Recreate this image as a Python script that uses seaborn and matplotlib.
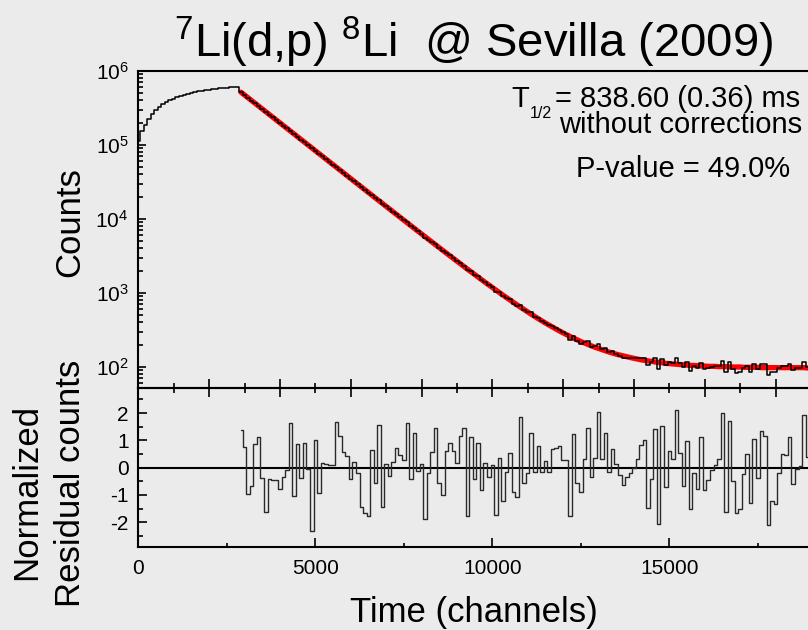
import numpy as np
import pandas as pd
import matplotlib
matplotlib.use("Agg")
import matplotlib.pyplot as plt
import seaborn as sns
from matplotlib.ticker import LogLocator, MultipleLocator, NullFormatter, FuncFormatter

# ---------------- data ----------------
time_rise = list(range(0, 2900, 100))
counts_rise = [115000, 155000, 188000, 227000, 263000, 296000, 326000, 354000, 379000,
               402000, 424000, 443000, 461000, 478000, 493000, 507000, 520000, 531000,
               542000, 552000, 561000, 570000, 577000, 584000, 591000, 597000, 602000,
               607000, 610000]
time_decay = list(range(2900, 19100, 100))
counts_decay = [518089, 474624, 434071, 398148, 365968, 335722, 307002, 280819, 258065, 236590,
                216919, 198741, 182400, 167336, 154100, 140324, 129329, 118178, 108770, 99450,
                90498, 83922, 76425, 70366, 64510, 59151, 54242, 50094, 45842, 41928,
                38427, 35082, 32288, 29544, 26885, 24614, 22547, 21022, 19117, 17815,
                15968, 14834, 13560, 12497, 11519, 10546, 9662, 8997, 8076, 7557,
                6827, 6287, 5620, 5277, 4901, 4560, 4066, 3705, 3499, 3233,
                2959, 2699, 2533, 2347, 2015, 1979, 1760, 1675, 1478, 1398,
                1273, 1189, 1038, 1023, 898, 862, 819, 720, 662, 688,
                583, 549, 545, 478, 466, 417, 398, 366, 358, 338,
                320, 294, 278, 230, 264, 224, 207, 215, 222, 188,
                190, 205, 175, 181, 157, 162, 150, 142, 134, 133,
                132, 131, 131, 134, 134, 105, 115, 132, 93, 130,
                105, 118, 113, 131, 114, 100, 116, 89, 103, 96,
                114, 95, 97, 101, 103, 104, 121, 85, 117, 95,
                84, 85, 97, 104, 86, 109, 95, 111, 109, 77,
                86, 85, 96, 103, 102, 109, 92, 98, 98, 117,
                101, 94]
fit_counts = [517097, 474114, 434704, 398571, 365442, 335068, 307218, 281684, 258273, 236809,
              217129, 199085, 182541, 167373, 153465, 140714, 129024, 118305, 108477, 99466,
              91205, 83630, 76685, 70318, 64480, 59127, 54219, 49719, 45594, 41811,
              38343, 35163, 32248, 29575, 27124, 24877, 22817, 20928, 19196, 17608,
              16152, 14818, 13594, 12472, 11443, 10499, 9635, 8842, 8115, 7448,
              6837, 6277, 5763, 5292, 4860, 4464, 4101, 3768, 3463, 3183,
              2926, 2691, 2475, 2278, 2096, 1930, 1778, 1638, 1510, 1392,
              1285, 1186, 1095, 1012, 936, 867, 803, 744, 690, 641,
              596, 554, 516, 481, 449, 420, 393, 369, 346, 325,
              306, 289, 273, 258, 245, 233, 221, 211, 202, 193,
              185, 178, 171, 165, 159, 154, 149, 145, 141, 137,
              134, 131, 128, 125, 123, 121, 119, 117, 115, 114,
              112, 111, 110, 109, 108, 107, 106, 105, 105, 104,
              103, 103, 102, 102, 102, 101, 101, 101, 100, 100,
              100, 100, 99, 99, 99, 99, 99, 98, 98, 98,
              98, 98, 98, 98, 98, 98, 98, 98, 98, 98,
              97, 97]
residuals = [1.38, 0.74, -0.96, -0.67, 0.87, 1.13, -0.39, -1.63, -0.41, -0.45,
             -0.45, -0.77, -0.33, -0.09, 1.62, -1.04, 0.85, -0.37, 0.89, -0.05,
             -2.34, 1.01, -0.94, 0.18, 0.12, 0.10, 0.10, 1.68, 1.16, 0.57,
             0.43, -0.43, 0.22, -0.18, -1.45, -1.67, -1.79, 0.65, -0.57, 1.56,
             -1.45, 0.13, -0.29, 0.22, 0.71, 0.46, 0.28, 1.65, -0.43, 1.26,
             -0.12, 0.12, -1.88, -0.21, 0.59, 1.44, -0.55, -1.02, 0.62, 0.89,
             0.61, 0.16, 1.16, 1.44, -1.77, 1.11, -0.43, 0.91, -0.82, 0.16,
             -0.33, 0.10, -1.73, 0.34, -1.24, -0.17, 0.55, -0.88, -1.06, 1.87,
             -0.55, -0.21, 1.28, -0.15, 0.80, -0.15, 0.26, -0.15, 0.67, 0.71,
             0.79, 0.28, 0.28, -1.77, 1.23, -0.57, -0.91, 0.30, 1.44, -0.33,
             0.34, 2.05, 0.30, 1.26, -0.17, 0.67, 0.12, -0.27, -0.63, -0.33,
             -0.21, 0.00, 0.30, 0.83, 1.01, -1.49, -0.40, 1.40, -2.07, 1.52,
             -0.70, 0.62, 0.30, 2.11, 0.55, -0.67, 0.98, -1.52, -0.20, -0.80,
             1.13, -0.82, -0.45, -0.09, 0.10, 0.30, 1.99, -1.61, 1.71, -0.50,
             -1.65, -1.51, -0.23, 0.50, -1.30, 1.04, -0.37, 1.34, 1.16, -2.10,
             -1.24, -1.35, -0.20, 0.50, 0.45, 1.11, -0.60, -0.05, 0.05, 1.93,
             0.40, -0.30]

title_text = r"$^{7}$Li(d,p) $^{8}$Li  @ Sevilla (2009)"

# ---------------- style ----------------
bg = "#ebebeb"
sns.set_theme(style="ticks")
plt.rcParams.update({
    "font.family": ["Liberation Sans", "DejaVu Sans"],
    "mathtext.fontset": "custom",
    "mathtext.rm": "Liberation Sans",
    "mathtext.it": "Liberation Sans:italic",
    "mathtext.bf": "Liberation Sans:bold",
    "axes.unicode_minus": False,
    "figure.facecolor": bg,
    "axes.facecolor": "none",
    "axes.edgecolor": "black",
    "axes.linewidth": 1.5,
    "text.color": "black",
    "axes.labelcolor": "black",
    "xtick.color": "black",
    "ytick.color": "black",
    "xtick.labelcolor": "black",
    "ytick.labelcolor": "black",
})

W, H = 808, 630
fig = plt.figure(figsize=(W / 100, H / 100), dpi=100)
x0 = 138.3
pxc = 0.0354  # px per channel
ax1 = fig.add_axes([x0 / W, 1 - 388 / H, 20000 * pxc / W, (388 - 71) / H])
ax2 = fig.add_axes([x0 / W, 1 - 547 / H, 20000 * pxc / W, (547 - 388) / H])

df_all = pd.DataFrame({"t": time_rise + time_decay, "c": counts_rise + counts_decay})
df_fit = pd.DataFrame({"t": time_decay, "f": fit_counts})
df_res = pd.DataFrame({"t": time_decay, "r": residuals})

sns.lineplot(data=df_fit, x="t", y="f", ax=ax1, color="red", lw=3.8, zorder=2)
sns.lineplot(data=df_all, x="t", y="c", ax=ax1, color="black", lw=1.1,
             drawstyle="steps-mid", zorder=3)
ax1.set_yscale("log")
ax1.set_xlim(0, 20000)
ax1.set_ylim(52, 1e6)
ax1.set_xlabel("")
ax1.set_ylabel("")
ax1.yaxis.set_major_locator(LogLocator(base=10, numticks=10))
ax1.yaxis.set_minor_locator(LogLocator(base=10, subs=np.arange(2, 10), numticks=20))
ax1.yaxis.set_minor_formatter(NullFormatter())
ax1.xaxis.set_major_locator(MultipleLocator(2000))
ax1.xaxis.set_minor_locator(MultipleLocator(1000))
ax1.tick_params(axis="y", which="both", direction="in", left=True, right=False,
                labelsize=15, pad=7, width=1.2, color="black", labelcolor="black")
ax1.tick_params(axis="y", which="major", length=5.8)
ax1.tick_params(axis="y", which="minor", length=3.6)
ax1.tick_params(axis="x", which="both", direction="inout", bottom=True, top=False,
                labelbottom=False, width=1.2, color="black")
ax1.tick_params(axis="x", which="major", length=13)
ax1.tick_params(axis="x", which="minor", length=7)

sns.lineplot(data=df_res, x="t", y="r", ax=ax2, color="#2a2a2a", lw=1.0,
             drawstyle="steps-mid")
ax2.axhline(0, color="black", lw=1.5, zorder=1)
ax2.set_xlim(0, 20000)
ax2.set_ylim(-2.91, 2.92)
ax2.set_xlabel("")
ax2.set_ylabel("")
ax2.xaxis.set_major_locator(MultipleLocator(5000))
ax2.xaxis.set_minor_locator(MultipleLocator(2500))
ax2.xaxis.set_major_formatter(FuncFormatter(lambda v, p: "" if v > 18000 else f"{v:.0f}"))
ax2.yaxis.set_major_locator(MultipleLocator(1))
ax2.yaxis.set_minor_locator(MultipleLocator(0.5))
ax2.tick_params(axis="both", which="both", direction="in", top=False, right=False,
                labelsize=15, width=1.2, color="black", labelcolor="black")
ax2.tick_params(axis="x", which="major", length=6.5, pad=9)
ax2.tick_params(axis="x", which="minor", length=3.2)
ax2.tick_params(axis="y", which="major", length=6.5, pad=7)
ax2.tick_params(axis="y", which="minor", length=3.6)
ax2.spines["top"].set_visible(True)

# ---------------- texts ----------------
fig.text(474 / W, 1 - 57 / H, title_text, fontsize=34, ha="center", va="baseline")
fig.text(70 / W, 1 - 222 / H, "Counts", fontsize=25, rotation=90, ha="center", va="center")
fig.text(27 / W, 1 - 492 / H, "Normalized", fontsize=25, rotation=90, ha="center", va="center")
fig.text(70 / W, 1 - 483 / H, "Residual counts", fontsize=25, rotation=90, ha="center", va="center")
fig.text(473.5 / W, 1 - 622 / H, "Time (channels)", fontsize=25, ha="center", va="baseline")

fig.text(529 / W, 1 - 107 / H, "T", fontsize=21, ha="right", va="baseline")
fig.text(530 / W, 1 - 118 / H, "1/2", fontsize=11.5, ha="left", va="baseline")
fig.text(800 / W, 1 - 107 / H, "= 838.60 (0.36) ms", fontsize=21, ha="right", va="baseline")
fig.text(802 / W, 1 - 133 / H, "without corrections", fontsize=21, ha="right", va="baseline")
fig.text(790 / W, 1 - 177 / H, "P-value = 49.0%", fontsize=21, ha="right", va="baseline")

fig.savefig("out.png", dpi=100, facecolor=bg)
